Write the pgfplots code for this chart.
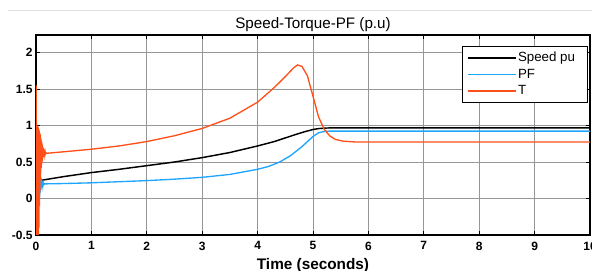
\documentclass[border=0pt]{standalone}
\usepackage{pgfplots}
\pgfplotsset{compat=1.18}
\usepackage{fontspec}
\setmainfont{Liberation Sans}
\definecolor{pfblue}{RGB}{30,165,255}
\definecolor{tred}{RGB}{255,80,25}
\definecolor{gridc}{RGB}{150,150,150}
\begin{document}
\begin{tikzpicture}
\draw[gray!25, line width=0.6pt] (6pt,195.75pt) -- (444pt,195.75pt);
\begin{axis}[
  at={(27pt,27pt)}, anchor=south west,
  width=415.5pt, height=150pt, scale only axis,
  xmin=0, xmax=10, ymin=-0.5, ymax=2.24,
  xtick={0,1,...,10}, ytick={-0.5,0,0.5,1,1.5,2},
  yticklabels={-0.5,0,0.5,1,1.5,2},
  /pgf/number format/assume math mode=true,
  ticklabel style={font=\fontsize{9}{10}\selectfont\bfseries},
  xticklabel style={yshift=-1.5pt},
  yticklabel style={xshift=1pt},
  tick align=inside, major tick length=3pt,
  tick style={black, line width=0.6pt},
  xtick pos=both, ytick pos=both,
  grid=major, major grid style={gridc, line width=0.5pt},
  axis line style={black, line width=0.8pt},
  title={Speed-Torque-PF (p.u)},
  title style={font=\fontsize{11.4}{13}\selectfont, at={(axis description cs:0.5,1)}, anchor=base, yshift=-1.5pt},
  xlabel={Time (seconds)},
  xlabel style={font=\fontsize{11.5}{13}\selectfont\bfseries, at={(axis description cs:0.5,0)}, anchor=base, yshift=-25.5pt},
  legend style={at={(axis description cs:1,1)}, anchor=north east, xshift=-1.5pt, yshift=-8.5pt,
    font=\fontsize{10}{11}\selectfont, draw=black, line width=0.6pt, inner xsep=3pt, inner ysep=2.5pt,
    cells={anchor=west}, nodes={inner sep=1.2pt, text height=7.6pt, text depth=2.2pt}},
  legend cell align=left,
  legend image code/.code={\draw[#1, line width=1.3pt] (0pt,0pt) -- (36pt,0pt);},
  clip=true,
]
\addplot[black, line width=1.1pt] coordinates {
(0,0)(0.01,-0.4)(0.03,0.1)(0.06,0.3)(0.1,0.25)(0.5,0.3)(1,0.355)(1.5,0.4)(2,0.45)(2.5,0.5)(3,0.56)(3.5,0.63)(4,0.72)(4.3,0.78)(4.5,0.83)(4.7,0.88)(4.85,0.915)(5.0,0.945)(5.1,0.958)(5.25,0.966)(5.5,0.967)(10,0.967)};
\addlegendentry{\makebox[48pt][l]{Speed pu}}
\addplot[pfblue, line width=1pt] coordinates {
(0,0)(0.004,-0.3)(0.01,0.15)(0.016,-0.1)(0.022,0.3)(0.028,-0.1)(0.034,0.33)(0.04,-0.1)(0.046,0.36)(0.052,-0.08)(0.058,0.38)(0.064,0.0)(0.07,0.34)(0.076,0.08)(0.082,0.3)(0.088,0.12)(0.094,0.27)(0.1,0.15)(0.106,0.245)(0.112,0.17)(0.118,0.23)(0.124,0.18)(0.13,0.22)(0.14,0.19)(0.15,0.2)
(0.5,0.205)(1,0.215)(1.5,0.23)(2,0.245)(2.5,0.265)(3,0.29)(3.5,0.33)(4,0.4)(4.2,0.44)(4.4,0.5)(4.6,0.59)(4.8,0.71)(5.0,0.85)(5.1,0.9)(5.2,0.918)(5.3,0.923)(10,0.923)};
\addlegendentry{PF}
\addplot[tred, line width=1pt] coordinates {
(0,0)(0.002,1.55)(0.006,-0.6)(0.01,1.05)(0.014,-0.6)(0.018,1.0)(0.022,-0.6)(0.026,1.0)(0.030,-0.6)(0.034,0.98)(0.038,-0.6)(0.042,0.97)(0.046,-0.55)(0.050,0.95)(0.054,-0.4)(0.058,0.93)(0.062,-0.1)(0.066,0.9)(0.070,0.1)(0.074,0.88)(0.078,0.25)(0.082,0.85)(0.086,0.35)(0.090,0.82)(0.094,0.42)(0.098,0.79)(0.102,0.47)(0.106,0.76)(0.110,0.51)(0.114,0.73)(0.118,0.54)(0.122,0.71)(0.126,0.56)(0.130,0.69)(0.134,0.575)(0.138,0.675)(0.142,0.585)(0.146,0.66)(0.150,0.595)(0.155,0.645)(0.160,0.605)(0.165,0.635)(0.170,0.61)(0.180,0.625)(0.2,0.62)
(0.5,0.64)(1,0.675)(1.5,0.72)(2,0.78)(2.5,0.86)(3,0.96)(3.5,1.1)(4,1.32)(4.3,1.52)(4.5,1.67)(4.65,1.79)(4.72,1.83)(4.8,1.81)(4.9,1.68)(5.0,1.4)(5.1,1.12)(5.2,0.95)(5.3,0.86)(5.4,0.81)(5.55,0.785)(5.75,0.775)(10,0.775)};
\addlegendentry{T}
\end{axis}
\pgfresetboundingbox
\path[use as bounding box] (0,0) rectangle (444pt,203.25pt);
\end{tikzpicture}
\end{document}
